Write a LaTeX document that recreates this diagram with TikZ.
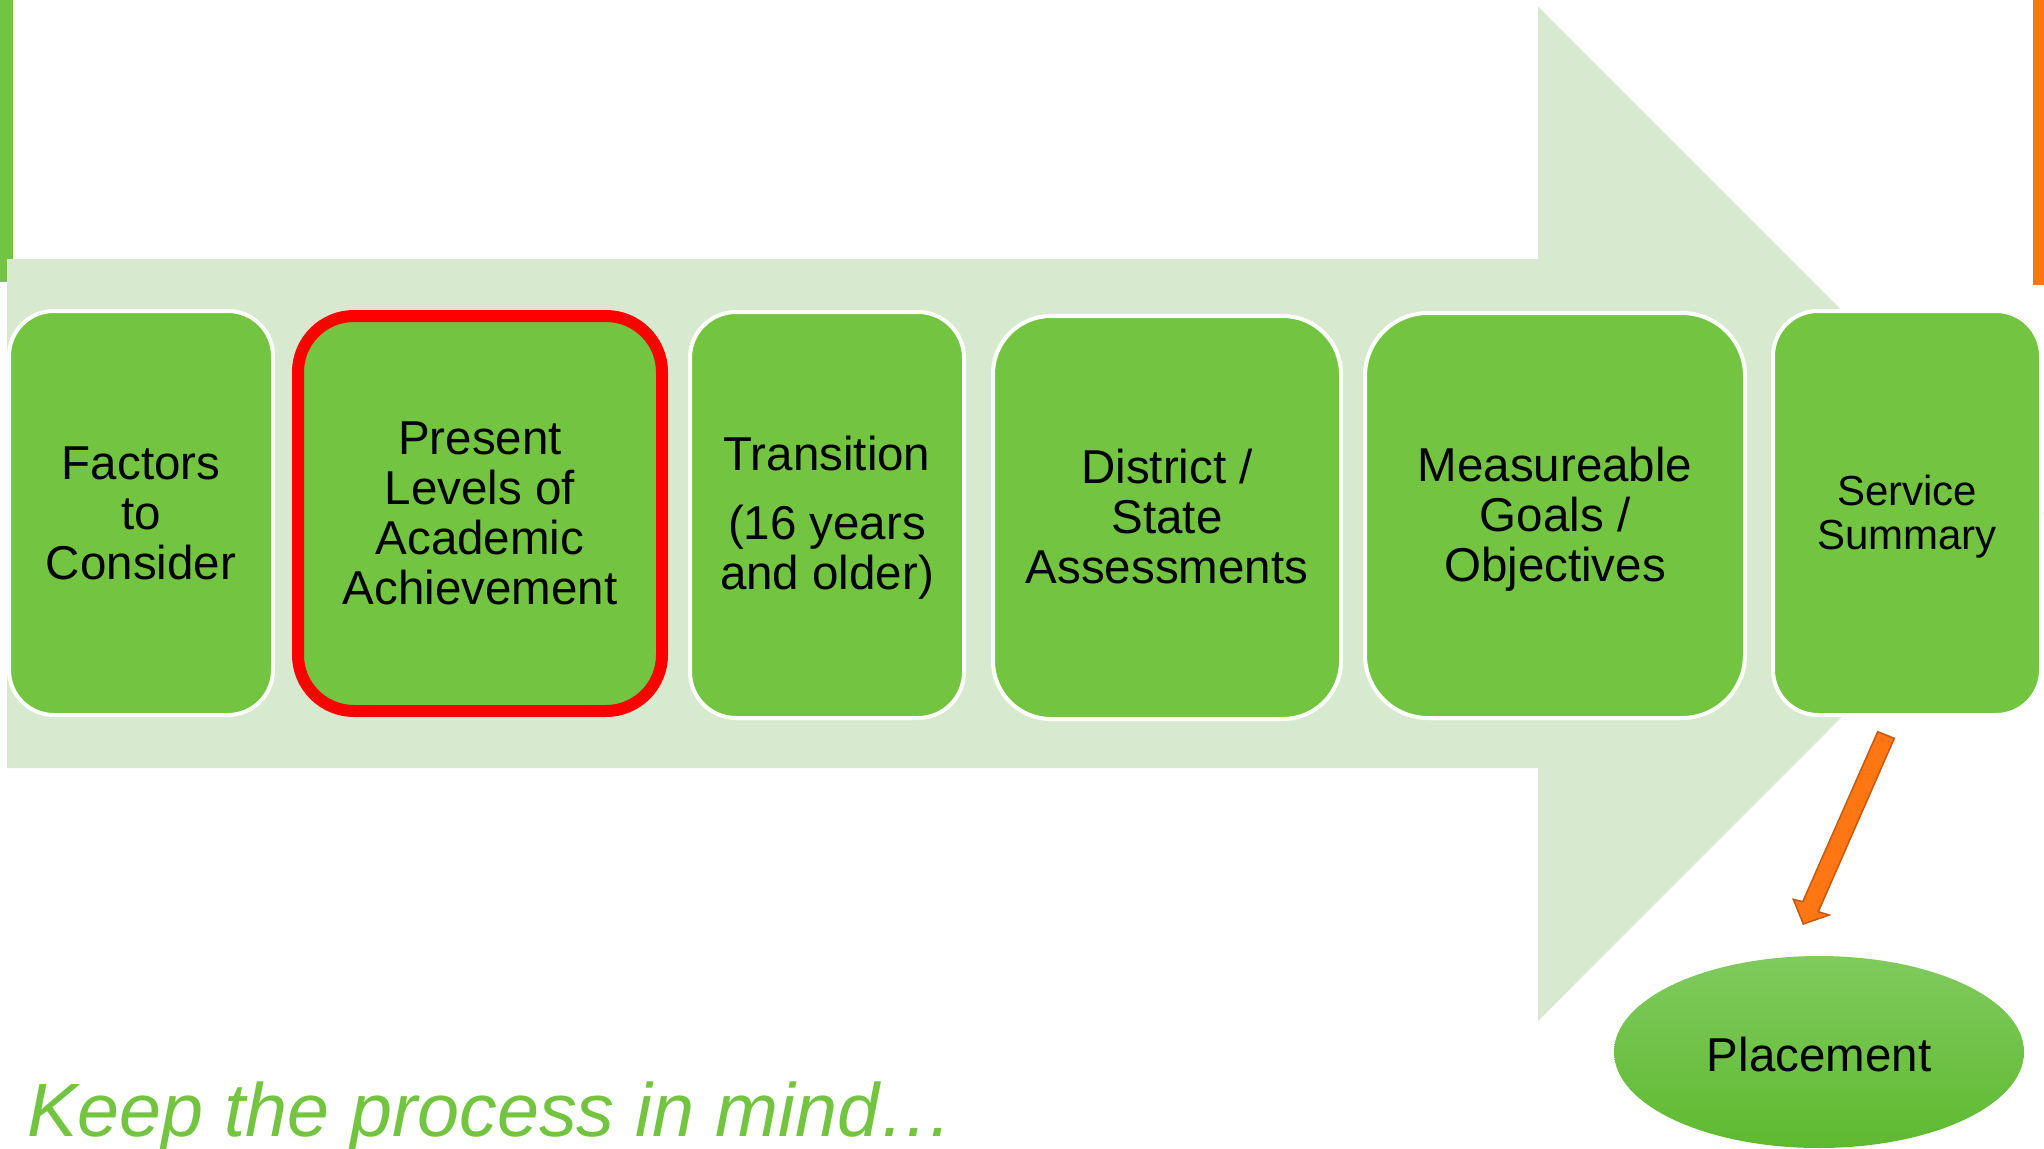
\documentclass[tikz,border=0pt]{standalone}
\usepackage{fontspec}
\setmainfont{Liberation Sans}
\usetikzlibrary{shapes.geometric}
\definecolor{boxgreen}{RGB}{114,196,65}
\definecolor{bandgreen}{RGB}{215,234,208}
\definecolor{orangebar}{RGB}{255,118,18}
\definecolor{orangedark}{RGB}{197,90,17}
\definecolor{elltop}{RGB}{128,202,94}
\definecolor{ellbot}{RGB}{94,186,48}
\begin{document}
\begin{tikzpicture}[x=1pt,y=-1pt,
  stepbox/.style={draw=white, line width=4pt, fill=boxgreen, inner sep=0pt},
  steptext/.style={align=center, inner sep=0pt, text=black,
    font=\fontsize{47.5}{50}\selectfont},
  hilite/.style={draw=red, line width=12pt},
  smalltext/.style={font=\fontsize{42}{44}\selectfont},
  ]
\useasboundingbox (0,0) rectangle (2044,1148);
\fill[white] (0,0) rectangle (2044,1148);
% side bars
\fill[boxgreen] (0,0) rectangle (13,282);
\fill[orangebar] (2033,0) rectangle (2044,285);
% big background arrow
\fill[bandgreen] (7,259) -- (1538,259) -- (1538,6.5) -- (2045,513.5)
  -- (1538,1021) -- (1538,768) -- (7,768) -- cycle;
% step boxes
\node[stepbox, minimum width=264pt, minimum height=404pt, rounded corners=45pt]
  (b1) at (141,513) {};
\node[steptext] (t1) at (141,513) {Factors\\to\\Consider};
\node[stepbox, hilite, minimum width=364pt, minimum height=395pt, rounded corners=56pt]
  (b2) at (480,513.5) {};
\node[steptext] (t2) at (480,513.5) {Present\\Levels of\\Academic\\Achievement};
\node[stepbox, minimum width=274pt, minimum height=406pt, rounded corners=46pt]
  (b3) at (827,515) {};
\node[steptext] (t3) at (827,518) {Transition\\[19pt](16 years\\and older)};
\node[stepbox, minimum width=348pt, minimum height=403pt, rounded corners=58pt]
  (b4) at (1167,517.5) {};
\node[steptext] (t4) at (1167,516.5) {District /\\State\\Assessments};
\node[stepbox, minimum width=380pt, minimum height=405pt, rounded corners=63pt]
  (b5) at (1555,515.5) {};
\node[steptext] (t5) at (1555,519) {Measureable\\Goals /\\Objectives};
\node[stepbox, minimum width=268pt, minimum height=404pt, rounded corners=45pt]
  (b6) at (1907,513) {};
\node[steptext, smalltext] (t6) at (1907,517) {Service\\Summary};
% placement ellipse
\node[ellipse, draw=none, top color=elltop, bottom color=ellbot,
  minimum width=410pt, minimum height=192pt, inner sep=0pt,
  font=\fontsize{47.5}{50}\selectfont] (pl) at (1819,1052) {};
\node[steptext] (plt) at (1819,1055) {Placement};
% orange block arrow from service summary to placement
\coordinate (tailL) at (1877.7,731.7);
\coordinate (tailR) at (1894.3,738.3);
\coordinate (tip) at (1803.3,924);
\filldraw[fill=orangebar, draw=orangedark, line width=1.5pt, line join=miter]
  (tailL) -- (tailR) -- (1818.3,911.7) -- (1829.3,915) -- (tip)
  -- (1793.3,899.3) -- (1802.7,901.7) -- cycle;
% caption
\node[anchor=base west, inner sep=0pt, text=boxgreen,
  font=\fontsize{75.5}{80}\selectfont\itshape] (cap) at (27,1136)
  {Keep the process in mind…};
\end{tikzpicture}
\end{document}
